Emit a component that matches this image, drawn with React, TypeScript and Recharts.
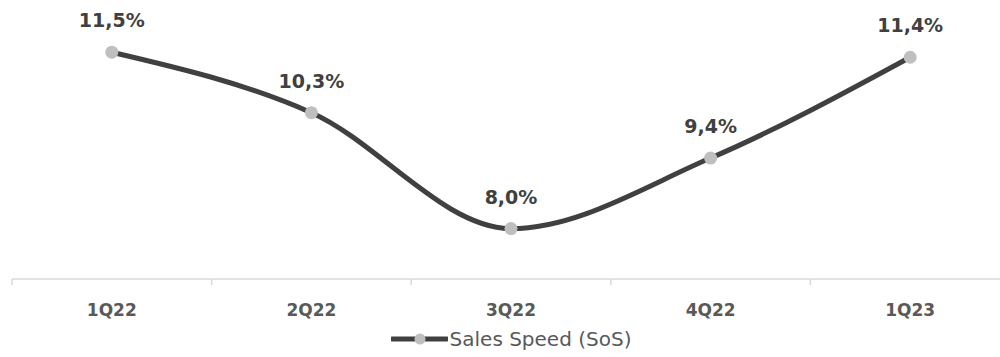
import React from 'react';
import { LineChart, Line, XAxis, YAxis, LabelList, Legend } from 'recharts';

const quarters = ['1Q22', '2Q22', '3Q22', '4Q22', '1Q23'];
const salesSpeed = [11.5, 10.3, 8.0, 9.4, 11.4];

const data = quarters.map((q, i) => ({ quarter: q, sos: salesSpeed[i] }));

const CHART_W = 1010;
const MARGIN = { top: 27, right: 0, left: 12, bottom: 5 };
const BAND = (CHART_W - MARGIN.left - MARGIN.right) / quarters.length;

const FONT = '"DejaVu Sans", "Open Sans", sans-serif';
const LINE = '#404040';
const DOT = '#bfbfbf';
const AXIS = '#d9d9d9';
const TEXT = '#595959';

const fmtPct = (v: number) => v.toFixed(1).replace('.', ',') + '%';

// quarter label plus the small tick mark on the left edge of its band
const QuarterTick = (props: any) => {
  const { x, y, payload } = props;
  return (
    <g>
      <line x1={x - BAND / 2} y1={y} x2={x - BAND / 2} y2={y + 6} stroke={AXIS} strokeWidth={1.5} />
      <text
        x={x}
        y={y + 25}
        dy="0.71em"
        textAnchor="middle"
        fill={TEXT}
        fontSize={17}
        fontWeight={700}
        fontFamily={FONT}
      >
        {payload.value}
      </text>
    </g>
  );
};

const LegendContent = () => (
  <div
    style={{
      height: 26,
      display: 'flex',
      alignItems: 'center',
      justifyContent: 'center',
      fontFamily: FONT,
      fontSize: 20,
      color: TEXT,
    }}
  >
    <svg width={57} height={16} style={{ marginRight: 2 }}>
      <line x1={1} y1={8} x2={56} y2={8} stroke={LINE} strokeWidth={5} strokeLinecap="round" />
      <circle cx={29} cy={8} r={5.5} fill={DOT} />
    </svg>
    <span>Sales Speed (SoS)</span>
  </div>
);

export default function App() {
  return (
    <div style={{ position: 'absolute', left: 0, top: 0, width: 1000, height: 357, overflow: 'hidden', background: '#fff' }}>
      <LineChart width={CHART_W} height={357} data={data} margin={MARGIN} style={{ fontFamily: FONT }}>
        <XAxis
          dataKey="quarter"
          scale="band"
          height={47}
          interval={0}
          tickLine={false}
          tickSize={0}
          tickMargin={0}
          axisLine={{ stroke: AXIS, strokeWidth: 1.5 }}
          tick={<QuarterTick />}
        />
        <YAxis hide domain={[7, 12]} />
        <Legend verticalAlign="bottom" content={<LegendContent />} />
        <Line
          type="monotone"
          dataKey="sos"
          name="Sales Speed (SoS)"
          stroke={LINE}
          strokeWidth={5}
          dot={{ r: 6.5, fill: DOT, stroke: 'none' }}
          activeDot={false}
          isAnimationActive={false}
        >
          <LabelList
            dataKey="sos"
            position="top"
            offset={25}
            formatter={(v: any) => fmtPct(Number(v))}
            style={{ fill: LINE, fontSize: 19, fontWeight: 700, fontFamily: FONT }}
          />
        </Line>
      </LineChart>
    </div>
  );
}
